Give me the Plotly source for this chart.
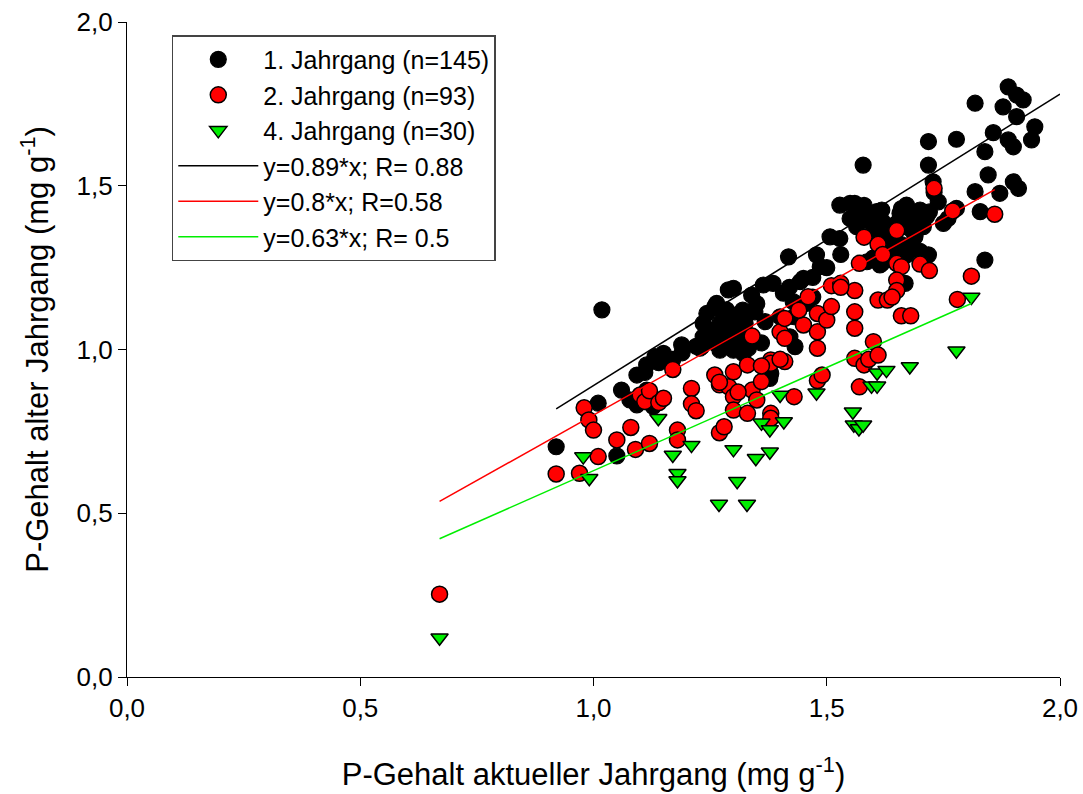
import plotly.graph_objects as go
import numpy as np

# ---------------- data ----------------
j1_x = [0.92, 1.01, 1.018, 1.05, 1.06, 1.078, 1.093, 1.093, 1.114, 1.114, 1.128, 1.132, 1.15, 1.189, 1.228,
        1.232, 1.235, 1.235, 1.243, 1.26, 1.264, 1.264, 1.271, 1.271, 1.278, 1.282, 1.285, 1.289, 1.296, 1.30,
        1.30, 1.307, 1.307, 1.321, 1.325, 1.332, 1.339, 1.346, 1.364, 1.368, 1.378, 1.38, 1.385, 1.407, 1.418,
        1.421, 1.428, 1.432, 1.443, 1.45, 1.457, 1.47, 1.478, 1.486, 1.507, 1.528, 1.528, 1.55, 1.56, 1.564,
        1.571, 1.578, 1.578, 1.586, 1.593, 1.607, 1.614, 1.618, 1.618, 1.625, 1.628, 1.636, 1.65, 1.65, 1.657,
        1.668, 1.671, 1.671, 1.671, 1.678, 1.686, 1.689, 1.689, 1.70, 1.707, 1.714, 1.718, 1.718, 1.718, 1.728,
        1.739, 1.75, 1.778, 1.778, 1.818, 1.818, 1.829, 1.839, 1.839, 1.846, 1.857, 1.871, 1.878, 1.889, 1.889,
        1.90, 1.90, 1.907, 1.907, 1.911, 1.921, 1.939, 1.946,
        1.66, 1.64, 1.60, 1.69, 1.66, 1.72, 1.73, 1.58, 1.55, 1.62, 1.68, 1.76, 1.50, 1.47, 1.42, 1.40, 1.35,
        1.33, 1.31, 1.29, 1.26, 1.25, 1.22, 1.19, 1.17, 1.14, 1.11, 1.32, 1.36, 1.43, 1.53, 1.60, 1.70]
j1_y = [0.703, 0.836, 1.121, 0.675, 0.876, 0.846, 0.831, 0.922, 0.876, 0.953, 0.826, 0.978, 0.988, 1.014, 1.004,
        1.009, 1.039, 1.08, 1.11, 1.131, 1.141, 1.049, 1.08, 0.998, 1.11, 1.024, 1.121, 1.182, 1.054, 1.187,
        0.998, 1.105, 1.019, 0.988, 1.08, 1.004, 1.166, 1.115, 1.197, 1.085, 0.912, 0.927, 1.202, 1.172, 1.283,
        1.039, 1.146, 1.009, 1.207, 1.217, 1.141, 1.16, 1.289, 1.253, 1.344, 1.339, 1.441, 1.446, 1.446, 1.375,
        1.421, 1.563, 1.411, 1.268, 1.39, 1.421, 1.258, 1.426, 1.263, 1.365, 1.365, 1.34, 1.385, 1.263, 1.416,
        1.202, 1.441, 1.375, 1.289, 1.37, 1.406, 1.35, 1.344, 1.426, 1.375, 1.406, 1.635, 1.563, 1.289, 1.512,
        1.451, 1.385, 1.642, 1.431, 1.752, 1.482, 1.421, 1.604, 1.273, 1.533, 1.662, 1.477, 1.741, 1.802, 1.64,
        1.619, 1.512, 1.777, 1.711, 1.492, 1.762, 1.64, 1.68,
        1.32, 1.30, 1.36, 1.40, 1.43, 1.42, 1.48, 1.44, 1.40, 1.39, 1.31, 1.40, 1.25, 1.22, 1.19, 1.10, 1.14,
        1.03, 1.06, 1.08, 1.02, 1.06, 1.01, 0.99, 0.97, 0.96, 0.93, 1.12, 1.02, 1.10, 1.29, 1.28, 1.30]

j2_x = [0.67, 0.92, 0.97, 0.98, 0.99, 1.00, 1.01, 1.05, 1.08, 1.09, 1.10, 1.11, 1.12, 1.12, 1.14, 1.15, 1.17,
        1.18, 1.18, 1.21, 1.21, 1.22, 1.26, 1.27, 1.27, 1.28, 1.29, 1.30, 1.30, 1.30, 1.33, 1.33, 1.34, 1.34,
        1.35, 1.36, 1.38, 1.38, 1.38, 1.38, 1.40, 1.41, 1.41, 1.41, 1.43, 1.45, 1.46, 1.48, 1.48, 1.48, 1.48,
        1.49, 1.50, 1.51, 1.51, 1.53, 1.56, 1.57, 1.56, 1.56, 1.56, 1.57, 1.58, 1.59, 1.60, 1.61, 1.58, 1.61,
        1.61, 1.63, 1.65, 1.65, 1.66, 1.65, 1.65, 1.66, 1.68, 1.70, 1.72, 1.73, 1.77, 1.78, 1.81, 1.86,
        1.27, 1.31, 1.36, 1.44, 1.53, 1.62, 1.64, 1.40]
j2_y = [0.253, 0.62, 0.622, 0.822, 0.785, 0.754, 0.673, 0.724, 0.762, 0.695, 0.861, 0.841, 0.874, 0.713, 0.838,
        0.851, 0.939, 0.754, 0.724, 0.881, 0.834, 0.813, 0.922, 0.892, 0.746, 0.764, 0.886, 0.932, 0.856, 0.815,
        0.953, 0.805, 1.041, 0.876, 0.846, 0.902, 0.968, 0.958, 0.805, 0.79, 1.054, 1.034, 1.095, 0.963, 0.856,
        1.075, 1.161, 1.11, 1.054, 1.004, 0.905, 0.922, 1.09, 1.131, 1.195, 1.202, 1.18, 1.263, 1.065, 1.115,
        0.973, 0.886, 0.953, 0.97, 1.024, 0.983, 1.343, 1.321, 1.151, 1.151, 1.363, 1.263, 1.253, 1.212, 1.18,
        1.103, 1.103, 1.261, 1.241, 1.492, 1.423, 1.153, 1.224, 1.413,
        0.90, 0.87, 0.95, 1.12, 1.19, 1.29, 1.16, 0.97]

j4_x = [0.67, 0.978, 0.991, 1.139, 1.17, 1.18, 1.18, 1.21, 1.269, 1.30, 1.308, 1.329, 1.348, 1.36, 1.378,
        1.378, 1.40, 1.408, 1.478, 1.556, 1.558, 1.569, 1.578, 1.596, 1.608, 1.608, 1.628, 1.678, 1.778, 1.81]
j4_y = [0.12, 0.673, 0.607, 0.79, 0.678, 0.622, 0.60, 0.708, 0.528, 0.695, 0.598, 0.528, 0.668, 0.776, 0.756,
        0.688, 0.861, 0.78, 0.868, 0.81, 0.77, 0.759, 0.77, 0.889, 0.929, 0.889, 0.937, 0.948, 0.996, 1.16]

# regression lines: slope and x-extent
fit_names = ["y=0.89*x; R= 0.88", "y=0.8*x; R=0.58", "y=0.63*x; R= 0.5"]
fit_slopes = [0.89, 0.8, 0.63]
fit_xmin = [0.92, 0.67, 0.67]
fit_xmax = [2.0, 1.86, 1.81]
fit_colors = ["black", "red", "#00ee00"]

tick_vals = [0.0, 0.5, 1.0, 1.5, 2.0]

FONT = "Liberation Sans, Arial, sans-serif"

# ---------------- figure ----------------
fig = go.Figure()

fig.add_trace(go.Scatter(x=j1_x, y=j1_y, mode="markers", name="1. Jahrgang (n=145)",
                         marker=dict(symbol="circle", size=16, color="black",
                                     line=dict(color="black", width=1.2))))
fig.add_trace(go.Scatter(x=j2_x, y=j2_y, mode="markers", name="2. Jahrgang (n=93)",
                         marker=dict(symbol="circle", size=16, color="red",
                                     line=dict(color="black", width=1.5))))
fig.add_trace(go.Scatter(x=j4_x, y=j4_y, mode="markers", name="4. Jahrgang (n=30)",
                         marker=dict(symbol="triangle-down", size=15, color="#00ee00",
                                     line=dict(color="black", width=1.5))))

for name, s, x0, x1, c in zip(fit_names, fit_slopes, fit_xmin, fit_xmax, fit_colors):
    xs = np.array([x0, x1])
    fig.add_trace(go.Scatter(x=xs, y=s * xs, mode="lines", name=name,
                             line=dict(color=c, width=1.5)))

axis_common = dict(
    range=[0, 2.0], tickvals=tick_vals, tickformat=".1f",
    showgrid=False, zeroline=False, showline=True, linecolor="black", linewidth=1.3,
    ticks="outside", ticklen=8, tickwidth=1.3, tickcolor="black",
    tickfont=dict(family=FONT, size=26, color="black"),
    automargin=False,
)

fig.update_layout(
    width=1083, height=794,
    paper_bgcolor="white", plot_bgcolor="white",
    separators=",.",
    margin=dict(l=127, r=23, t=22, b=117, autoexpand=False),
    font=dict(family=FONT, color="black"),
    xaxis=dict(**axis_common,
               title=dict(text="P-Gehalt aktueller Jahrgang (mg g<sup>-1</sup>)",
                          font=dict(size=31), standoff=40)),
    yaxis=dict(**axis_common,
               title=dict(text="P-Gehalt alter Jahrgang (mg g<sup>-1</sup>)",
                          font=dict(size=31), standoff=18)),
    legend=dict(x=0.048, y=0.98, xanchor="left", yanchor="top",
                bordercolor="#444444", borderwidth=1.5, bgcolor="white",
                font=dict(size=25), tracegroupgap=0, itemwidth=80),
    showlegend=True,
)

fig.write_html("out.html")
